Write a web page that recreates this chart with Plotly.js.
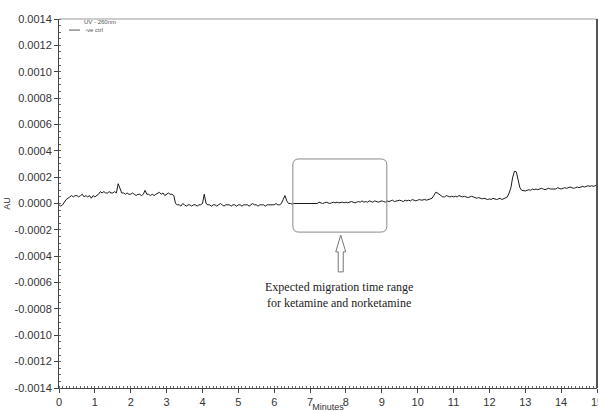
<!DOCTYPE html>
<html>
<head>
<meta charset="utf-8">
<script src="https://cdn.plot.ly/plotly-3.0.1.min.js"></script>
<style>html,body{margin:0;padding:0;background:#fff;}#chart{width:598px;height:412px;}</style>
</head>
<body>
<div id="chart"></div>
<script>
// Detector signal, one reading every 0.05 min from 0 to 15 min, in units of 1e-5 AU
const timeStart = 0;
const timeStep = 0.05;
const unitScale = 1e-5;
const signal = [
  // 0.00 - 0.95
  -1, -2, -1, 1, 3, 4, 5, 6, 5, 6, 6, 5, 6, 7, 5, 6, 5, 6, 4, 6,
  // 1.00 - 1.95
  5, 6, 7, 9, 8, 9, 8, 8, 9, 8, 8, 9, 8, 15, 11, 8, 8, 7, 8, 7,
  // 2.00 - 2.95
  7, 8, 7, 6, 7, 7, 6, 7, 10, 7, 7, 6, 7, 6, 7, 8, 8.5, 7, 8, 6,
  // 3.00 - 3.95
  7, 8, 7, 7, 6, 0, -1, -1, -2, 0, -1, -2, -1, -1, -2, -1, -1, -2, -1, -1,
  // 4.00 - 4.95
  0, 7, 0, -1, -1, -2, -1, -1, -2, -1, 0, -1, -2, -1, -1, -1, -2, -1, -1, -2,
  // 5.00 - 5.95
  -1, -1, -2, -1, -1, -1, -2, -1, 0, -1, -1, -2, -1, -1, -1, -2, -1, -1, -1, -1,
  // 6.00 - 6.95
  -1, 0, -1, -1, 0, 3, 6, 2, 0, 0, -0.5, 0, 0, 0.5, 0, 0, 0.5, 0, 0.5, 0,
  // 7.00 - 7.95
  0.5, 0, 0, 0.5, 0, 1, 0.5, 0, 0.5, 1, 0.5, 0, 0.5, 1, 0.5, 1, 0.5, 1, 1, 0.5,
  // 8.00 - 8.95
  1, 0.5, 1, 1.5, 1, 0.5, 1, 1.5, 1, 2, 1, 1.5, 1, 2, 1.5, 1, 2, 1.5, 1, 1.5,
  // 9.00 - 9.95
  2, 1.5, 1, 2, 1.5, 2, 2.5, 1.5, 2, 2, 2.5, 2, 1.5, 2.5, 2, 2.5, 2, 3, 2.5, 2,
  // 10.00 - 10.95
  2.5, 3, 2.5, 3, 3, 2.5, 3, 3.5, 4, 6, 8.5, 8, 7, 5.5, 5, 5, 6, 5.5, 5, 5.5,
  // 11.00 - 11.95
  5, 5.5, 5, 6, 5.5, 5, 5.5, 5, 4.5, 5, 5.5, 5, 4.5, 4, 4.5, 4, 3.5, 4, 3.5, 3,
  // 12.00 - 12.95
  3.5, 3, 4, 3.5, 3, 3.5, 4, 3, 3.5, 4, 5, 8, 12, 20, 24.5, 24, 17, 12, 10, 9.5,
  // 13.00 - 13.95
  9.5, 10, 10.5, 10, 11, 10.5, 11, 10.5, 11, 11.5, 11, 10.5, 11, 11.5, 11, 11, 11.5, 11, 12, 11.5,
  // 14.00 - 14.95
  11, 11.5, 12, 11.5, 12, 12.5, 12, 11.5, 12, 12.5, 12, 12.5, 13, 12.5, 13, 13.5, 13, 13.5, 13, 13.5,
  // 15.00
  14
];
const seriesName = "-ve ctrl";
const legendTitle = "UV - 260nm";
const xTickVals = [0,1,2,3,4,5,6,7,8,9,10,11,12,13,14,15];
const yTickVals = [-0.0014,-0.0012,-0.0010,-0.0008,-0.0006,-0.0004,-0.0002,0,0.0002,0.0004,0.0006,0.0008,0.0010,0.0012,0.0014];
const yTickText = ["-0.0014","-0.0012","-0.0010","-0.0008","-0.0006","-0.0004","-0.0002","0.0000","0.0002","0.0004","0.0006","0.0008","0.0010","0.0012","0.0014"];
const noteText = "Expected migration time range<br>for ketamine and norketamine";
// highlighted window (minutes, AU)
const windowX = [6.52, 9.14];
const windowY = [-0.000217, 0.000338];
const arrowX = 7.855;

const yAU = signal.map(v => v * unitScale);

function roundedRect(x0, x1, y0, y1, rx, ry) {
  return `M ${x0+rx} ${y1} L ${x1-rx} ${y1} Q ${x1} ${y1} ${x1} ${y1-ry} ` +
         `L ${x1} ${y0+ry} Q ${x1} ${y0} ${x1-rx} ${y0} L ${x0+rx} ${y0} ` +
         `Q ${x0} ${y0} ${x0} ${y0+ry} L ${x0} ${y1-ry} Q ${x0} ${y1} ${x0+rx} ${y1} Z`;
}
function hollowArrow(cx, tipY, headY, bottomY, hw, sw) {
  return `M ${cx} ${tipY} L ${cx+hw} ${headY} L ${cx+sw} ${headY} L ${cx+sw} ${bottomY} ` +
         `L ${cx-sw} ${bottomY} L ${cx-sw} ${headY} L ${cx-hw} ${headY} Z`;
}

const trace = {
  type: "scatter", mode: "lines", name: seriesName,
  x0: timeStart, dx: timeStep, y: yAU,
  line: {color: "#1a1a1a", width: 1},
  showlegend: false
};

const tickFont = {family: "Liberation Sans, Arial, sans-serif", size: 11, color: "#333"};

const layout = {
  width: 598, height: 412,
  margin: {l: 59, r: 1, t: 19, b: 24},
  paper_bgcolor: "#fff", plot_bgcolor: "#fff",
  showlegend: false,
  xaxis: {
    range: [0, 15], tickvals: xTickVals, ticks: "outside", ticklen: 4, tickcolor: "#444",
    showgrid: false, zeroline: false, showline: true, linecolor: "#444", linewidth: 1,
    tickfont: tickFont, ticklabeloverflow: "allow",
    minor: {dtick: 0.1, ticks: "inside", ticklen: 2, tickcolor: "#666", showgrid: false},
    title: {text: "Minutes", font: {family: "Liberation Sans, Arial, sans-serif", size: 9, color: "#333"}, standoff: 4}
  },
  yaxis: {
    range: [-0.0014, 0.0014], tickvals: yTickVals, ticktext: yTickText, ticks: "outside", ticklen: 4, tickcolor: "#444",
    showgrid: false, zeroline: false, showline: true, linecolor: "#444", linewidth: 1,
    tickfont: tickFont,
    minor: {dtick: 0.00005, ticks: "inside", ticklen: 2, tickcolor: "#666", showgrid: false},
    title: {text: "AU", font: {family: "Liberation Sans, Arial, sans-serif", size: 9, color: "#333"}, standoff: 2}
  },
  shapes: [
    {type: "line", xref: "paper", yref: "paper", x0: 0, x1: 1, y0: 1, y1: 1, line: {color: "#999", width: 1}},
    {type: "line", xref: "paper", yref: "paper", x0: 1, x1: 1, y0: 0, y1: 1, line: {color: "#555", width: 2}},
    {type: "path", xref: "x", yref: "y", path: roundedRect(windowX[0], windowX[1], windowY[0], windowY[1], 0.17, 0.000046),
     line: {color: "#888", width: 1}, fillcolor: "rgba(0,0,0,0)"},
    {type: "path", xref: "x", yref: "y", path: hollowArrow(arrowX, -0.00024, -0.000367, -0.000519, 0.139, 0.07),
     line: {color: "#777", width: 1}, fillcolor: "#fff"},
    {type: "line", xref: "paper", yref: "paper", x0: 0.0186, x1: 0.039, y0: 0.970, y1: 0.970, line: {color: "#555", width: 1}}
  ],
  annotations: [
    {xref: "paper", yref: "paper", x: 0.0428, y: 0.992, xanchor: "left", yanchor: "middle", showarrow: false,
     text: legendTitle, font: {family: "Liberation Sans, Arial, sans-serif", size: 6, color: "#555"}},
    {xref: "paper", yref: "paper", x: 0.0446, y: 0.970, xanchor: "left", yanchor: "middle", showarrow: false,
     text: seriesName, font: {family: "Liberation Sans, Arial, sans-serif", size: 6, color: "#555"}},
    {xref: "x", yref: "y", x: 7.8, y: -0.000696, xanchor: "center", yanchor: "middle", showarrow: false,
     text: noteText, align: "center", font: {family: "Liberation Serif, Times New Roman, serif", size: 12, color: "#222"}}
  ]
};

Plotly.newPlot("chart", [trace], layout, {staticPlot: true, displayModeBar: false});
</script>
</body>
</html>
